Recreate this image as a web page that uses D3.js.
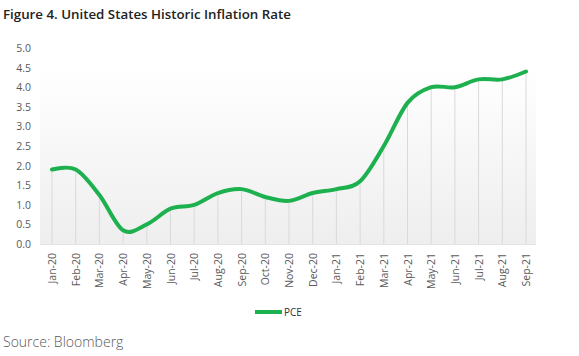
<!DOCTYPE html>
<html><head><meta charset="utf-8">
<script src="https://cdn.jsdelivr.net/npm/d3@7"></script>
<style>body{margin:0;background:#fff}svg{display:block}</style>
</head><body>
<script>
const months = ["Jan-20","Feb-20","Mar-20","Apr-20","May-20","Jun-20","Jul-20","Aug-20","Sep-20","Oct-20","Nov-20","Dec-20","Jan-21","Feb-21","Mar-21","Apr-21","May-21","Jun-21","Jul-21","Aug-21","Sep-21"];
const pce = [1.9,1.9,1.25,0.35,0.5,0.9,1.0,1.3,1.4,1.2,1.1,1.3,1.4,1.6,2.5,3.6,4.0,4.0,4.2,4.2,4.4];
const yTicks = [0,0.5,1,1.5,2,2.5,3,3.5,4,4.5,5];

const W=579,H=356;
const svg=d3.select("body").append("svg").attr("width",W).attr("height",H);
const font="Open Sans, Lato, sans-serif";
const x=d3.scalePoint().domain(months).range([52,526]);
const y=d3.scaleLinear().domain([0,5]).range([244,48]);

const defs=svg.append("defs");
const g=defs.append("linearGradient").attr("id","bg").attr("x1",0).attr("y1",0).attr("x2",0).attr("y2",1);
g.append("stop").attr("offset","0%").attr("stop-color","#ffffff");
g.append("stop").attr("offset","100%").attr("stop-color","#eeeeee");
svg.append("rect").attr("x",40).attr("y",y(4.5)).attr("width",496).attr("height",y(0)-y(4.5)).attr("fill","url(#bg)");

svg.append("text").attr("x",3).attr("y",19).attr("font-family",font).attr("font-weight",600)
  .attr("font-size",13.3).attr("fill","#222").text("Figure 4. United States Historic Inflation Rate");

// y axis labels
svg.append("g").selectAll("text").data(yTicks).join("text")
  .attr("x",31).attr("y",d=>y(d)+4).attr("text-anchor","end")
  .attr("font-family",font).attr("font-size",10.5).attr("fill","#595959")
  .text(d=>d3.format(".1f")(d));

// drop lines
svg.append("g").selectAll("line").data(pce).join("line")
  .attr("x1",(d,i)=>x(months[i])).attr("x2",(d,i)=>x(months[i]))
  .attr("y1",d=>y(d)).attr("y2",y(0))
  .attr("stroke","#d9d9d9").attr("stroke-width",1);

svg.append("line").attr("x1",40).attr("x2",536).attr("y1",y(0)+0.5).attr("y2",y(0)+0.5).attr("stroke","#e3e3e3");

// x labels
svg.append("g").selectAll("text").data(months).join("text")
  .attr("transform",d=>`translate(${x(d)+4},253) rotate(-90)`)
  .attr("text-anchor","end")
  .attr("font-family",font).attr("font-size",10.5).attr("fill","#595959").text(d=>d);

// line
const line=d3.line().x((d,i)=>x(months[i])).y(d=>y(d)).curve(d3.curveCardinal.tension(0));
svg.append("path").datum(pce).attr("d",line).attr("fill","none")
  .attr("stroke","#1db04e").attr("stroke-width",4).attr("stroke-linecap","round");

// legend
svg.append("line").attr("x1",255).attr("x2",282).attr("y1",312).attr("y2",312)
  .attr("stroke","#1db04e").attr("stroke-width",4);
svg.append("text").attr("x",284).attr("y",315.5).attr("font-family",font).attr("font-size",10)
  .attr("fill","#333").text("PCE");

svg.append("text").attr("x",3).attr("y",347).attr("font-family",font).attr("font-size",14)
  .attr("font-weight",300).attr("fill","#595959").text("Source: Bloomberg");
</script>
</body></html>
